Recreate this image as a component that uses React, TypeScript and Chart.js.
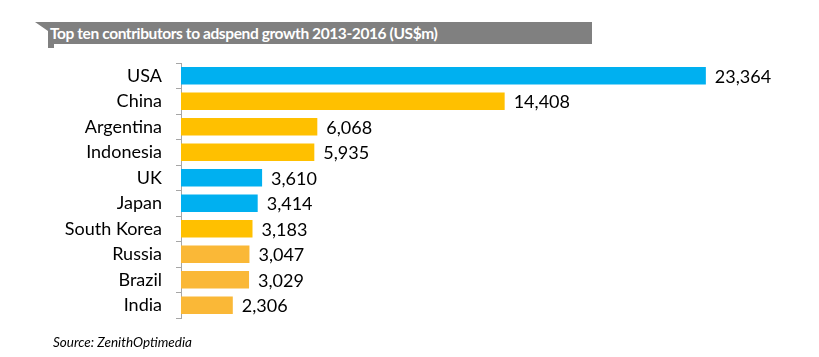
import React, { useEffect, useRef } from "react";
import { Chart, registerables } from "chart.js";

Chart.register(...registerables);

const countries = ["USA", "China", "Argentina", "Indonesia", "UK", "Japan", "South Korea", "Russia", "Brazil", "India"];
const growth = [23364, 14408, 6068, 5935, 3610, 3414, 3183, 3047, 3029, 2306];
const barColors = ["#00B0F0", "#FFC000", "#FFC000", "#FFC000", "#00B0F0", "#00B0F0", "#FFC000", "#FAB837", "#FAB837", "#FAB837"];
const titleText = "Top ten contributors to adspend growth 2013-2016 (US$m)";
const sourceText = "Source: ZenithOptimedia";

const FONT = "Lato, 'Open Sans', sans-serif";

const valueLabels = {
  id: "valueLabels",
  afterDatasetsDraw(chart: any) {
    const ctx = chart.ctx;
    const meta = chart.getDatasetMeta(0);
    ctx.save();
    ctx.font = `18px ${FONT}`;
    ctx.fillStyle = "#000";
    ctx.textAlign = "left";
    ctx.textBaseline = "middle";
    meta.data.forEach((bar: any, i: number) => {
      const v = chart.data.datasets[0].data[i] as number;
      ctx.fillText(v.toLocaleString("en-US"), bar.x + 9, bar.y + 1);
    });
    ctx.restore();
  },
};

export default function App() {
  const ref = useRef<HTMLCanvasElement>(null);
  useEffect(() => {
    if (!ref.current) return;
    const chart = new Chart(ref.current, {
      type: "bar",
      data: {
        labels: countries,
        datasets: [
          {
            data: growth,
            backgroundColor: barColors,
            barPercentage: 0.68,
            categoryPercentage: 1,
          },
        ],
      },
      options: {
        indexAxis: "y",
        animation: false,
        responsive: false,
        maintainAspectRatio: false,
        layout: { padding: { top: 63, bottom: 39, left: 0, right: 19 } },
        plugins: { legend: { display: false }, tooltip: { enabled: false }, title: { display: false } },
        scales: {
          x: { display: false, min: 0, max: 27555 },
          y: {
            afterFit: (scale: any) => {
              scale.width = 181;
            },
            border: { display: true, color: "#A6A6A6", width: 1 },
            grid: { display: true, drawOnChartArea: false, drawTicks: true, tickLength: 5, color: "#A6A6A6", offset: true },
            ticks: { color: "#000", font: { family: FONT, size: 18 }, padding: 14 },
          },
        },
      },
      plugins: [valueLabels],
    });
    return () => chart.destroy();
  }, []);

  return (
    <div style={{ position: "absolute", left: 0, top: 0, width: 819, height: 357, background: "#fff", overflow: "hidden" }}>
      <div
        style={{
          position: "absolute",
          left: 0,
          top: 0,
          width: 819,
          height: 357,
          background: "#808080",
          clipPath: "polygon(35px 22px, 592px 22px, 592px 44px, 54px 44px, 54px 48px, 48px 48px, 48px 31px)",
        }}
      />
      <div
        style={{
          position: "absolute",
          left: 50,
          top: 22,
          height: 22,
          lineHeight: "22px",
          color: "#fff",
          fontFamily: FONT,
          fontWeight: 700,
          fontSize: 15.5,
          letterSpacing: -0.4,
          whiteSpace: "nowrap",
        }}
      >
        {titleText}
      </div>
      <canvas ref={ref} width={819} height={357} style={{ position: "absolute", left: 0, top: 0 }} />
      <div
        style={{
          position: "absolute",
          left: 53,
          top: 334,
          fontFamily: FONT,
          fontStyle: "italic",
          fontSize: 13.5,
          color: "#000",
          whiteSpace: "nowrap",
        }}
      >
        {sourceText}
      </div>
    </div>
  );
}
